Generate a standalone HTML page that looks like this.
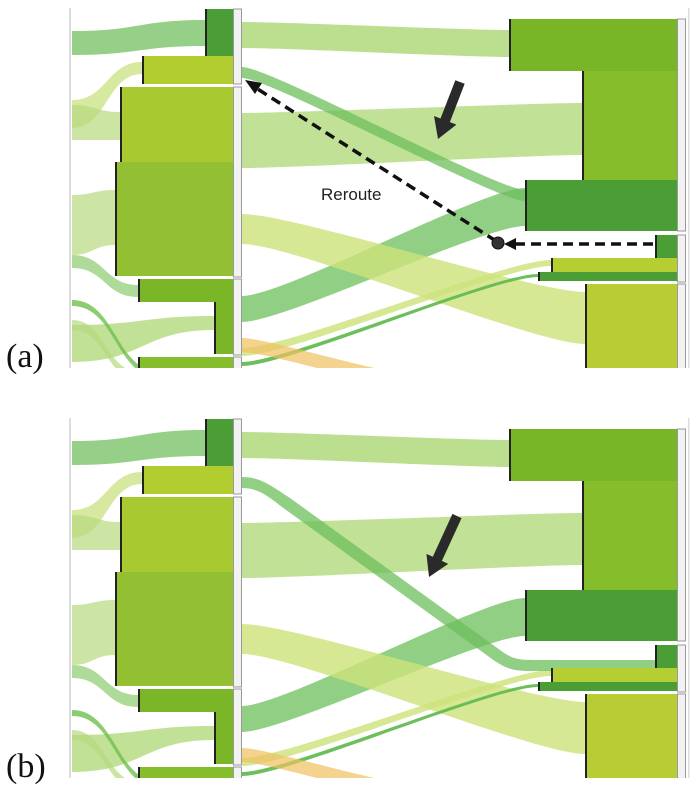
<!DOCTYPE html>
<html><head><meta charset="utf-8"><style>
html,body{margin:0;padding:0;background:#fff;}
svg{display:block;}
</style></head><body>
<svg id="fig" width="696" height="792" viewBox="0 0 696 792" xmlns="http://www.w3.org/2000/svg" font-family="'Liberation Sans', sans-serif">
<defs>
<clipPath id="clipA"><rect x="66" y="6" width="626" height="362"/></clipPath>
<clipPath id="clipB"><rect x="66" y="416" width="626" height="362"/></clipPath>
</defs>
<g id="panelA" clip-path="url(#clipA)"></g>
<g id="panelB" clip-path="url(#clipB)"></g>
<g id="annot"></g>
<text x="6" y="367" font-family="'Liberation Serif', serif" font-size="34" fill="#111">(a)</text>
<text x="6" y="777" font-family="'Liberation Serif', serif" font-size="34" fill="#111">(b)</text>
</svg>
<script>
// Node bars: [x0, y0, y1, color] (right edge = column edge)
const leftNodes = [[205,9,56,'#4a9e35'],[142,56,84,'#b2cd30'],[120,87,162,'#a9c930'],[115,162,276,'#93bf32'],[138,279,302,'#7ab628'],[214,302,354,'#7ab628'],[138,357,372,'#86bd2a']];
const rightNodes = [[509,19,71,'#78b628'],[582,71,180,'#86bd2a'],[525,180,231,'#4a9e35'],[655,235,258,'#4a9e35'],[551,258,272,'#b5cf33'],[538,272,281,'#4a9e35'],[585,284,372,'#b8cd33']];
const leftGroups = [[9,84],[87,277],[279,355],[357,372]];
const rightGroups = [[19,231],[235,282],[284,372]];
// Flows: [x0, y0top, y0bot, x1, y1top, y1bot, color, opacity]
const leftFlows = [[72,31,55,205,20,46,'#7cc46a',0.8],[72,100,128,142,62,74,'#cde28a',0.8],[72,105,140,120,112,140,'#b7d97e',0.7],[72,195,255,115,190,245,'#b7d97e',0.7],[72,255,268,138,285,297,'#8ccc6e',0.7],[72,325,362,214,316,330,'#a6d46a',0.7],[72,300,306,160,372,378,'#6fbf50',0.8],[72,320,330,140,372,380,'#b7d97e',0.7]];
const rightFlows = [[242,22,48,509,30,57,'#a6d46a',0.75],[242,113,168,582,103,155,'#a6d46a',0.7],[242,296,322,525,188,226,'#6cbf5c',0.75],[242,214,244,585,292,344,'#cde27a',0.8],[242,348,356,551,260,266,'#cde27a',0.8],[242,362,366,538,274,277,'#5db84a',0.9],[242,338,352,400,372,386,'#f0c060',0.7]];
const reroutedA = [242,67,78,525,190,201,'#6cbf5c',0.75];

const NS='http://www.w3.org/2000/svg';
function mk(tag, attrs, parent){const e=document.createElementNS(NS,tag);for(const k in attrs)e.setAttribute(k,attrs[k]);parent.appendChild(e);return e;}
function bandPath(f,dy,k){const [x0,a0,b0,x1,a1,b1]=f;const c0=x0+(x1-x0)*k,c1=x1-(x1-x0)*k;
 return `M${x0},${a0+dy} C${c0},${a0+dy} ${c1},${a1+dy} ${x1},${a1+dy} L${x1},${b1+dy} C${c1},${b1+dy} ${c0},${b0+dy} ${x0},${b0+dy} Z`;}
function drawPanel(g,dy,mode){
 mk('rect',{x:69,y:8+dy,width:2,height:362,fill:'#ddd'},g);
 mk('rect',{x:688,y:8+dy,width:1.5,height:362,fill:'#ddd'},g);
 leftFlows.forEach(f=>{const p=mk('path',{d:bandPath(f,dy,0.5),fill:f[6],'fill-opacity':f[7]},g);
  
  });
 rightFlows.forEach(f=>{const p=mk('path',{d:bandPath(f,dy,0.15),fill:f[6],'fill-opacity':f[7]},g);
  
  });
 if(mode==='a'){const p=mk('path',{d:bandPath(reroutedA,dy,0.1),fill:reroutedA[6],'fill-opacity':0.75},g);
  
  }
 else{const p=mk('path',{d:`M242,${67+dy} C260,${67+dy} 270,${75+dy} 290,${88+dy} L500,${240+dy} C512,${249+dy} 518,${250+dy} 535,${250+dy} L655,${250+dy} L655,${261+dy} L530,${261+dy} C512,${261+dy} 505,${258+dy} 492,${249+dy} L282,${97+dy} C268,${86+dy} 258,${78+dy} 242,${78+dy} Z`,fill:'#6cbf5c','fill-opacity':0.75},g);
  
  }
 leftNodes.forEach(n=>{const r=mk('rect',{x:n[0],y:n[1]+dy,width:233-n[0],height:n[2]-n[1],fill:n[3]},g);
  
  
  mk('rect',{x:n[0],y:n[1]+dy,width:2,height:n[2]-n[1],fill:'#222'},g);});
 rightNodes.forEach(n=>{const r=mk('rect',{x:n[0],y:n[1]+dy,width:677-n[0],height:n[2]-n[1],fill:n[3]},g);
  
  
  mk('rect',{x:n[0],y:n[1]+dy,width:2,height:n[2]-n[1],fill:'#222'},g);});
 leftGroups.forEach(s=>{const r=mk('rect',{x:233.5,y:s[0]+dy,width:8,height:s[1]-s[0],fill:'#f2f2f2',stroke:'#999','stroke-width':1},g);
  
  });
 rightGroups.forEach(s=>{const r=mk('rect',{x:677.5,y:s[0]+dy,width:8,height:s[1]-s[0],fill:'#f2f2f2',stroke:'#999','stroke-width':1},g);
  
  });
}
drawPanel(document.getElementById('panelA'),0,'a');
drawPanel(document.getElementById('panelB'),410,'b');

const an=document.getElementById('annot');
function bigArrow(x0,y0,x1,y1,name){
 const dx=x1-x0,dy=y1-y0,L=Math.hypot(dx,dy),ux=dx/L,uy=dy/L,px=-uy,py=ux;
 const hb=L-20,w=5,hw=12;
 const pts=[[x0+px*w,y0+py*w],[x0+ux*hb+px*w,y0+uy*hb+py*w],[x0+ux*hb+px*hw,y0+uy*hb+py*hw],[x1,y1],[x0+ux*hb-px*hw,y0+uy*hb-py*hw],[x0+ux*hb-px*w,y0+uy*hb-py*w],[x0-px*w,y0-py*w]];
 const p=mk('polygon',{points:pts.map(q=>q.join(',')).join(' '),fill:'#2a2a2a'},an);
 
 
}
bigArrow(460,82,438,139,'highlight-arrow-a');
bigArrow(457,516,429,577,'highlight-arrow-b');
// dashed reroute arrows (panel a)
const d1=mk('line',{x1:496,y1:241,x2:256,y2:88,stroke:'#111','stroke-width':3.5,'stroke-dasharray':'10,6'},an);


mk('polygon',{points:'245,80 262,83 255,94',fill:'#111'},an);
const d2=mk('line',{x1:653,y1:244,x2:512,y2:244,stroke:'#111','stroke-width':3.5,'stroke-dasharray':'10,6'},an);


mk('polygon',{points:'504,244 516,238 516,250',fill:'#111'},an);
const c=mk('circle',{cx:498,cy:243,r:6,fill:'#333',stroke:'#111','stroke-width':1},an);


const t=mk('text',{x:321,y:200,'font-size':17,fill:'#222'},an);
t.textContent='Reroute';


</script>
</body></html>
